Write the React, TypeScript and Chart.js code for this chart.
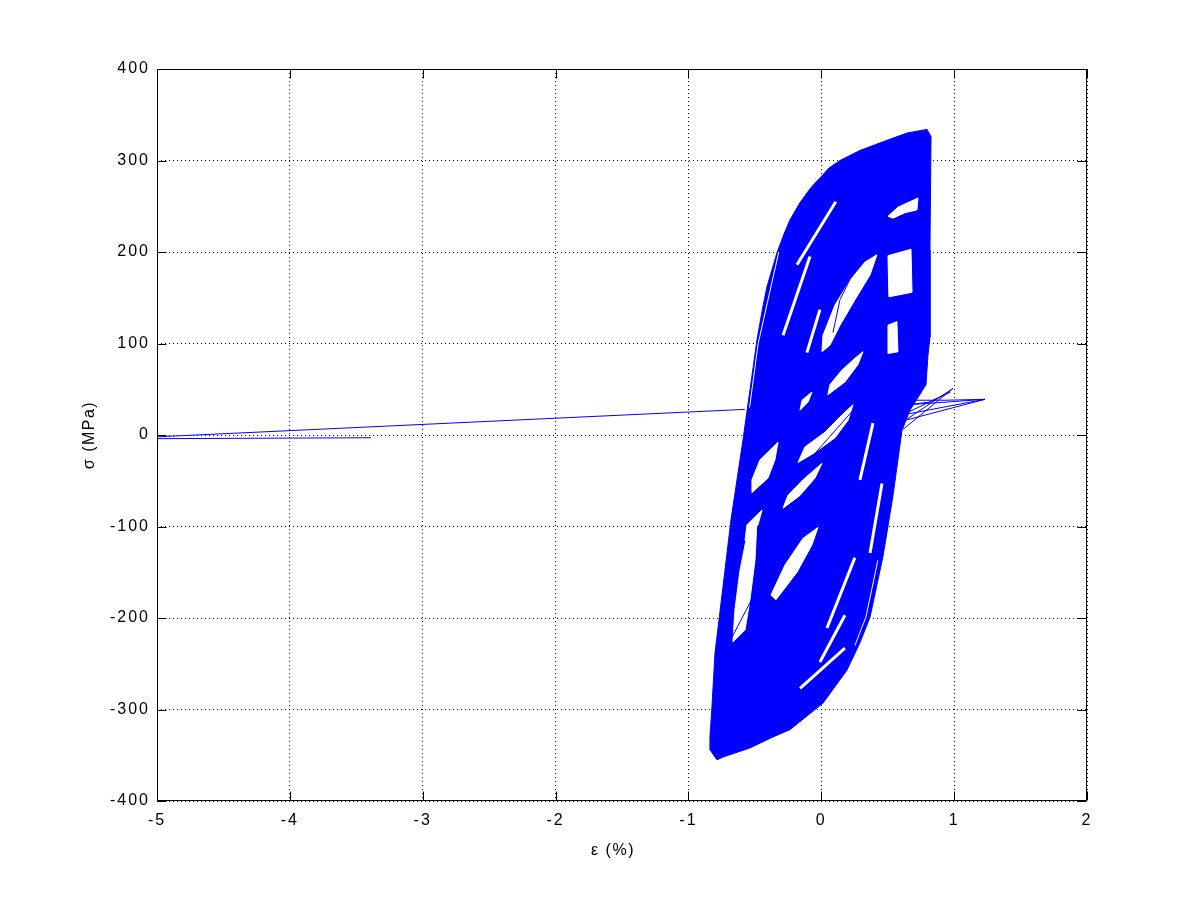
import React, { useEffect, useRef } from "react";
import { Chart, registerables } from "chart.js";

Chart.register(...registerables);

type P = [number, number];

// ---- axes ----
const X_TICKS = [-5, -4, -3, -2, -1, 0, 1, 2];
const Y_TICKS = [-400, -300, -200, -100, 0, 100, 200, 300, 400];
const X_LABEL = "ε (%)";
const Y_LABEL = "σ (MPa)";

// ---- outer envelope of the hysteresis cycles (strain %, stress MPa) ----
const envelope: P[] = [
  [0.796, 334], [0.826, 326], [0.818, 202], [0.818, 107], [0.803, 87], [0.788, 55],
  [0.667, 27], [0.607, 5], [0.540, -66], [0.464, -133], [0.367, -199], [0.291, -227],
  [0.193, -257], [0.013, -293], [-0.236, -322], [-0.364, -330], [-0.537, -342],
  [-0.740, -352], [-0.785, -355], [-0.838, -344], [-0.838, -330], [-0.823, -297],
  [-0.800, -238], [-0.740, -166], [-0.680, -93], [-0.589, -5], [-0.537, 49],
  [-0.484, 104], [-0.440, 140], [-0.409, 162], [-0.334, 199], [-0.280, 220], [-0.236, 235], [-0.160, 254],
  [-0.080, 270], [-0.010, 281], [0.060, 292], [0.141, 300], [0.291, 311], [0.494, 322], [0.645, 330], [0.796, 334],
];

// ---- open (unvisited) regions inside the loop bundle ----
const holeA: P[] = [[0.502, 239], [0.577, 249], [0.728, 259], [0.720, 246], [0.630, 243], [0.540, 237], [0.502, 239]];
const holeB: P[] = [[0.502, 196], [0.675, 203], [0.683, 156], [0.509, 151], [0.502, 196]];
const holeC: P[] = [[0.419, 197], [0.367, 175], [0.254, 148], [0.141, 120], [0.065, 98], [0.005, 91], [0.013, 109], [0.103, 142], [0.216, 169], [0.329, 189], [0.419, 197]];
const holeE: P[] = [[0.314, 91], [0.276, 77], [0.178, 58], [0.050, 44], [0.065, 55], [0.156, 71], [0.254, 84], [0.314, 91]];
const holeF: P[] = [[-0.070, 47], [-0.100, 36], [-0.160, 27], [-0.145, 38], [-0.070, 47]];
const holeG: P[] = [[0.239, 33], [0.201, 16], [0.103, -3], [-0.047, -19], [-0.175, -30], [-0.123, -13], [0.028, 3], [0.156, 22], [0.239, 33]];
const holeH: P[] = [[-0.326, -8], [-0.349, -27], [-0.401, -47], [-0.522, -63], [-0.522, -49], [-0.461, -27], [-0.326, -8]];
const holeI: P[] = [[0.005, -31], [-0.047, -47], [-0.160, -66], [-0.288, -80], [-0.251, -66], [-0.138, -49], [0.005, -31]];
const holeJ: P[] = [[-0.446, -82], [-0.476, -98], [-0.574, -115], [-0.559, -98], [-0.446, -82]];
const holeL: P[] = [[-0.025, -101], [-0.070, -120], [-0.183, -150], [-0.341, -180], [-0.379, -175], [-0.273, -142], [-0.138, -113], [-0.025, -101]];
const holeM: P[] = [[-0.484, -93], [-0.499, -137], [-0.537, -180], [-0.574, -213], [-0.665, -226], [-0.650, -191], [-0.612, -148], [-0.552, -104], [-0.484, -93]];
const holeP: P[] = [[0.502, 120], [0.569, 124], [0.577, 91], [0.502, 89], [0.502, 120]];

// ---- narrow open slivers ----
const sliver1: P[] = [[0.109, 255], [-0.183, 186]];
const sliver2: P[] = [[-0.085, 195], [-0.288, 109]];
const sliver3: P[] = [[-0.010, 137], [-0.108, 90]];
const sliverN1: P[] = [[0.253, -134], [0.043, -211]];
const sliverN2: P[] = [[0.178, -197], [-0.010, -248]];
const sliverO: P[] = [[0.178, -233], [-0.160, -277]];
const sliverR1: P[] = [[0.389, 13], [0.291, -49]];
const sliverR2: P[] = [[0.457, -53], [0.367, -129]];
const gapLeft: P[] = [[-0.32, 200], [-0.475, 100], [-0.54, 30]];
const gapRight: P[] = [[0.426, -137], [0.336, -199], [0.253, -230]];

// ---- individual visible traces ----
const longExcursion: P[] = [[-0.576, 28], [-5, -2], [-5, -4], [-3.39, -3]];
const rightSpikes: P[] = [[0.614, 6], [0.992, 51], [0.630, 16], [1.232, 39], [0.614, 22], [0.969, 47], [0.818, 36], [0.652, 33], [1.232, 39], [0.931, 38], [0.652, 38]];
const traceG: P[] = [[0.239, 27], [-0.138, -35]];
const traceM: P[] = [[-0.672, -221], [-0.514, -177]];
const traceC: P[] = [[0.239, 177], [0.141, 148], [0.088, 112]];

const BLUE = "#0000ff";
const FONT = '"Liberation Sans", Arial, Helvetica, sans-serif';

const pts = (a: P[]) => a.map(([x, y]) => ({ x, y }));

const framePlugin = {
  id: "matlabFrame",
  beforeDraw(chart: any) {
    // wider tracking for tick labels, like the original bitmap font
    (chart.ctx as any).letterSpacing = "2px";
  },
  beforeDatasetsDraw(chart: any) {
    (chart.ctx as any).letterSpacing = "0px";
  },
  afterDatasetsDraw(chart: any) {
    const { ctx, chartArea: a, scales } = chart;
    const L = Math.round(a.left) + 0.5;
    const R = Math.round(a.right) - 0.5;
    const T = Math.round(a.top) + 0.5;
    const B = Math.round(a.bottom) - 0.5;
    const TL = 9;
    ctx.save();
    ctx.setLineDash([]);
    ctx.strokeStyle = "#000";
    ctx.lineWidth = 1;
    ctx.beginPath();
    ctx.rect(L, T, R - L, B - T);
    for (const v of X_TICKS) {
      const px = Math.round(scales.x.getPixelForValue(v)) + 0.5;
      ctx.moveTo(px, B); ctx.lineTo(px, B - TL);
      ctx.moveTo(px, T); ctx.lineTo(px, T + TL);
    }
    for (const v of Y_TICKS) {
      const py = Math.round(scales.y.getPixelForValue(v)) + 0.5;
      ctx.moveTo(L, py); ctx.lineTo(L + TL, py);
      ctx.moveTo(R, py); ctx.lineTo(R - TL, py);
    }
    ctx.stroke();
    ctx.restore();
  },
  afterDraw(chart: any) {
    const { ctx } = chart;
    ctx.save();
    (ctx as any).letterSpacing = "1.5px";
    ctx.fillStyle = "#000";
    ctx.font = `16px ${FONT}`;
    ctx.textAlign = "center";
    ctx.textBaseline = "middle";
    ctx.fillText(X_LABEL, 613, 851);
    ctx.translate(90, 435);
    ctx.rotate(-Math.PI / 2);
    ctx.fillText(Y_LABEL, 0, 0);
    ctx.restore();
  },
};

export default function App() {
  const ref = useRef<HTMLCanvasElement | null>(null);

  useEffect(() => {
    if (!ref.current) return;
    Chart.defaults.font.family = FONT;
    Chart.defaults.font.size = 16;
    Chart.defaults.color = "#000";

    const holes = [holeA, holeB, holeC, holeE, holeF, holeG, holeH, holeI, holeJ, holeL, holeM, holeP];
    const slivers = [sliver1, sliver2, sliver3, sliverN1, sliverN2, sliverO, sliverR1, sliverR2];
    const gaps = [gapLeft, gapRight];
    const traces = [longExcursion, rightSpikes, traceG, traceM, traceC];

    const base = { pointRadius: 0, tension: 0 } as any;
    const datasets: any[] = [];
    // datasets with lower index are drawn on top
    traces.forEach((t) => datasets.push({ ...base, data: pts(t), borderColor: BLUE, borderWidth: 1, fill: false }));
    gaps.forEach((t) => datasets.push({ ...base, data: pts(t), borderColor: "#ffffff", borderWidth: 1, fill: false }));
    slivers.forEach((t) => datasets.push({ ...base, data: pts(t), borderColor: "#ffffff", borderWidth: 3, fill: false }));
    holes.forEach((t) => datasets.push({ ...base, data: pts(t), borderColor: "#ffffff", backgroundColor: "#ffffff", borderWidth: 1, fill: "shape" }));
    datasets.push({ ...base, data: pts(envelope), borderColor: BLUE, backgroundColor: BLUE, borderWidth: 1, fill: "shape" });

    const chart = new Chart(ref.current, {
      type: "line",
      data: { datasets },
      plugins: [framePlugin],
      options: {
        animation: false,
        responsive: false,
        events: [],
        layout: { padding: { left: 0, top: 69, right: 114, bottom: 0 } },
        plugins: { legend: { display: false }, tooltip: { enabled: false }, title: { display: false } },
        scales: {
          x: {
            type: "linear",
            min: -5,
            max: 2,
            afterFit: (s: any) => { s.height = 99; },
            afterBuildTicks: (s: any) => { s.ticks = X_TICKS.map((v) => ({ value: v })); },
            ticks: { padding: 10, color: "#000", font: { size: 16, family: FONT } },
            grid: { color: "#000", lineWidth: 1, drawTicks: false },
            border: { display: false, dash: [1, 3] },
          },
          y: {
            type: "linear",
            min: -400,
            max: 400,
            afterFit: (s: any) => { s.width = 157; },
            afterBuildTicks: (s: any) => { s.ticks = Y_TICKS.map((v) => ({ value: v })); },
            ticks: { padding: 7, color: "#000", font: { size: 16, family: FONT } },
            grid: { color: "#000", lineWidth: 1, drawTicks: false },
            border: { display: false, dash: [1, 3] },
          },
        },
      } as any,
    });
    return () => chart.destroy();
  }, []);

  return (
    <div style={{ position: "fixed", left: 0, top: 0, width: 1201, height: 900, background: "#fff" }}>
      <canvas ref={ref} width={1201} height={900} style={{ display: "block" }} />
    </div>
  );
}
